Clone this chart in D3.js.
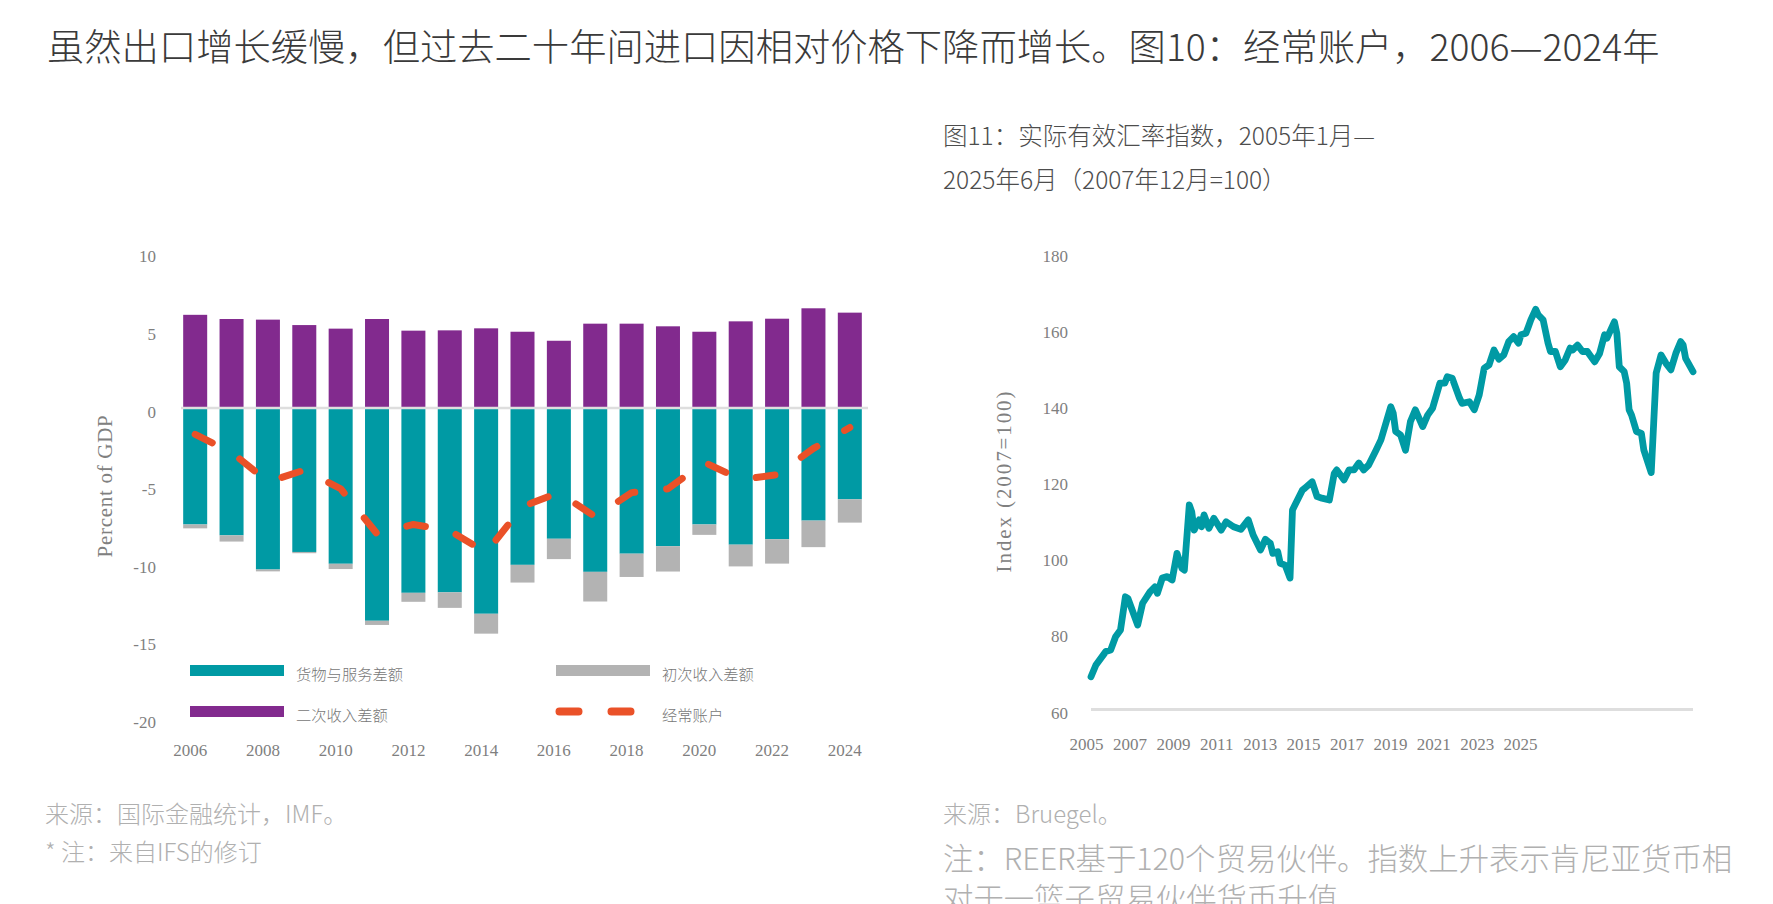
<!DOCTYPE html>
<html>
<head>
<meta charset="utf-8">
<script src="https://cdn.jsdelivr.net/npm/d3@7"></script>
<style>
  body { margin: 0; background: #fff; }
  svg text { font-family: "Noto Sans CJK SC", "Noto Sans", sans-serif; }
  .tick-label { font-family: "Liberation Serif", "DejaVu Serif", serif !important; font-size: 17px; fill: #7f7f7f; }
  .axis-title { font-family: "Liberation Serif", "DejaVu Serif", serif !important; font-size: 21px; fill: #808080; }
</style>
</head>
<body>
<svg id="chart" width="1773" height="904"></svg>
<script>
// data - figure 10 (percent of GDP)
var years = [2006, 2007, 2008, 2009, 2010, 2011, 2012, 2013, 2014, 2015, 2016, 2017, 2018, 2019, 2020, 2021, 2022, 2023, 2024];
var goodsServices = [-7.5, -8.2, -10.4, -9.27, -10.03, -13.7, -11.9, -11.87, -13.25, -10.1, -8.42, -10.55, -9.38, -8.9, -7.5, -8.8, -8.45, -7.25, -5.88];
var primaryIncome = [-0.25, -0.4, -0.12, -0.08, -0.34, -0.27, -0.58, -1.0, -1.28, -1.14, -1.31, -1.91, -1.5, -1.63, -0.67, -1.4, -1.57, -1.71, -1.5];
var secondaryIncome = [6.0, 5.73, 5.69, 5.34, 5.11, 5.73, 4.98, 5.0, 5.13, 4.91, 4.33, 5.43, 5.43, 5.26, 4.91, 5.58, 5.75, 6.42, 6.14];
var currentAccount = [-1.7, -2.85, -4.75, -4.0, -5.2, -8.1, -7.5, -7.9, -9.3, -6.35, -5.45, -7.0, -5.45, -5.2, -3.5, -4.6, -4.3, -2.6, -1.25];
var leftTicks = [10, 5, 0, -5, -10, -15, -20];
var leftXLabels = [2006, 2008, 2010, 2012, 2014, 2016, 2018, 2020, 2022, 2024];

// data - figure 11 (REER, months since Jan 2005)
var reerMonths = [0, 2, 6, 8, 10, 12, 14, 15, 19, 21, 24, 26, 27, 29, 31, 33, 35, 37, 38, 40, 41, 42, 44, 45, 46, 48, 50, 53, 55, 58, 61, 64, 66, 69, 71, 73, 74, 76, 77, 79, 81, 82, 83, 86, 87, 90, 92, 94, 97, 99, 100, 103, 105, 107, 109, 111, 113, 116, 118, 122, 123, 124, 126, 128, 130, 132, 135, 137, 139, 142, 144, 145, 147, 150, 151, 154, 156, 158, 160, 162, 164, 166, 168, 170, 172, 174, 175, 177, 178, 179, 181, 182, 184, 186, 187, 189, 191, 193, 195, 196, 198, 200, 202, 203, 205, 207, 209, 210, 213, 214, 215, 217, 218, 219, 220, 222, 224, 225, 228, 229, 230, 232, 234, 236, 238, 240, 241, 242, 245];
var reerValues = [68.6, 71.7, 75.2, 75.6, 79.1, 80.9, 89.6, 89.2, 82.2, 87.9, 90.9, 92.2, 90.5, 94.5, 94.9, 94.0, 101.0, 97.1, 96.6, 113.7, 111.9, 107.1, 109.8, 108.0, 111.1, 107.6, 110.2, 107.1, 109.3, 108.0, 107.3, 109.8, 105.8, 101.9, 104.7, 103.6, 101.0, 101.4, 98.4, 97.9, 94.5, 112.4, 113.7, 117.6, 118.1, 119.8, 115.9, 115.5, 115.0, 122.0, 122.9, 120.3, 122.9, 122.9, 124.7, 122.9, 124.2, 128.1, 130.8, 139.5, 137.8, 133.0, 132.1, 128.1, 135.6, 138.7, 134.3, 137.3, 139.1, 145.7, 145.7, 147.4, 147.0, 141.7, 140.4, 140.8, 138.7, 142.6, 149.6, 150.5, 154.4, 152.0, 153.1, 156.6, 157.9, 156.2, 158.4, 158.8, 160.5, 162.3, 165.1, 163.6, 162.3, 156.2, 154.0, 154.0, 150.0, 151.8, 154.9, 154.4, 155.7, 154.0, 154.0, 153.1, 151.3, 153.5, 158.4, 157.5, 161.8, 158.8, 150.0, 148.7, 145.7, 138.7, 137.3, 133.0, 132.5, 128.1, 122.2, 135.2, 148.3, 153.1, 150.9, 149.2, 153.5, 156.6, 155.7, 152.2, 148.7];
var rightTicks = [180, 160, 140, 120, 100, 80, 60];
var rightXLabels = ['2005', '2007', '2009', '2011', '2013', '2015', '2017', '2019', '2021', '2023', '2025'];

var TEAL = '#009aa4', PURPLE = '#822a8e', GREY = '#b3b3b3', ORANGE = '#ea5128';

var svg = d3.select('#chart');

// titles
svg.append('text')
  .attr('x', 47).attr('y', 45)
  .attr('dominant-baseline', 'central')
  .style('font-size', '37.3px').style('font-weight', 300).style('fill', '#3a3a3a')
  .text('虽然出口增长缓慢，但过去二十年间进口因相对价格下降而增长。图10：经常账户，2006—2024年');

svg.selectAll('.subtitle')
  .data(['图11：实际有效汇率指数，2005年1月—', '2025年6月（2007年12月=100）'])
  .join('text')
  .attr('class', 'subtitle')
  .attr('x', 943)
  .attr('y', function(d, i) { return 134.5 + i * 44; })
  .attr('dominant-baseline', 'central')
  .style('font-size', '24.5px').style('font-weight', 300).style('fill', '#4d4d4d')
  .text(function(d) { return d; });

///*********** Figure 10: stacked bars ************/

var x = d3.scaleBand()
  .domain(years)
  .range([177, 868])
  .paddingInner(0.34)
  .paddingOuter(0.17);

var y = d3.scaleLinear().domain([-20, 10]).range([718.6, 252.7]);

var rows = years.map(function(yr, i) {
  return {year: yr, goods: goodsServices[i], primary: primaryIncome[i], secondary: secondaryIncome[i], ca: currentAccount[i]};
});

var left = svg.append('g');

left.selectAll('.sec')
  .data(rows)
  .join('rect')
  .attr('class', 'sec')
  .attr('x', function(d) { return x(d.year); })
  .attr('width', x.bandwidth())
  .attr('y', function(d) { return y(d.secondary); })
  .attr('height', function(d) { return y(0) - y(d.secondary); })
  .style('fill', PURPLE);

left.selectAll('.goods')
  .data(rows)
  .join('rect')
  .attr('class', 'goods')
  .attr('x', function(d) { return x(d.year); })
  .attr('width', x.bandwidth())
  .attr('y', y(0))
  .attr('height', function(d) { return y(d.goods) - y(0); })
  .style('fill', TEAL);

left.selectAll('.prim')
  .data(rows)
  .join('rect')
  .attr('class', 'prim')
  .attr('x', function(d) { return x(d.year); })
  .attr('width', x.bandwidth())
  .attr('y', function(d) { return y(d.goods); })
  .attr('height', function(d) { return y(d.goods + d.primary) - y(d.goods); })
  .style('fill', GREY);

left.append('line')
  .attr('x1', 181).attr('x2', 868)
  .attr('y1', y(0)).attr('y2', y(0))
  .style('stroke', '#dedede').style('stroke-width', 2.5);

var caLine = d3.line()
  .x(function(d) { return x(d.year) + x.bandwidth() / 2; })
  .y(function(d) { return y(d.ca); });

left.append('path')
  .datum(rows)
  .attr('d', caLine)
  .style('fill', 'none')
  .style('stroke', ORANGE)
  .style('stroke-width', 7)
  .style('stroke-linecap', 'round')
  .style('stroke-linejoin', 'round')
  .style('stroke-dasharray', '19,32');

left.selectAll('.ytick')
  .data(leftTicks)
  .join('text')
  .attr('class', 'tick-label ytick')
  .attr('x', 156)
  .attr('y', function(d) { return y(d) + 4; })
  .attr('text-anchor', 'end')
  .attr('dominant-baseline', 'central')
  .text(function(d) { return d; });

// year labels sit a little left of the bar centres in the original
left.selectAll('.xtick')
  .data(leftXLabels)
  .join('text')
  .attr('class', 'tick-label xtick')
  .attr('x', function(d) { return x(d) + x.bandwidth() / 2 - 5; })
  .attr('y', 750)
  .attr('text-anchor', 'middle')
  .attr('dominant-baseline', 'central')
  .text(function(d) { return d; });

left.append('text')
  .attr('class', 'axis-title')
  .attr('transform', 'translate(105,486) rotate(-90)')
  .attr('text-anchor', 'middle')
  .attr('dominant-baseline', 'central')
  .style('letter-spacing', '0.7px')
  .text('Percent of GDP');

// legend
var legendItems = [
  {name: '货物与服务差额', color: TEAL, x: 190, y: 670.5, dash: false},
  {name: '初次收入差额', color: GREY, x: 556, y: 670.5, dash: false},
  {name: '二次收入差额', color: PURPLE, x: 190, y: 711.5, dash: false},
  {name: '经常账户', color: ORANGE, x: 556, y: 711.5, dash: true}
];

var leg = left.selectAll('.legend')
  .data(legendItems)
  .join('g')
  .attr('class', 'legend')
  .attr('transform', function(d) { return 'translate(' + [d.x, d.y] + ')'; });

leg.filter(function(d) { return !d.dash; })
  .append('rect')
  .attr('x', 0).attr('y', -5.5)
  .attr('width', 94).attr('height', 11)
  .style('fill', function(d) { return d.color; });

leg.filter(function(d) { return d.dash; })
  .append('line')
  .attr('x1', 3.5).attr('x2', 80)
  .attr('y1', 0).attr('y2', 0)
  .style('stroke', function(d) { return d.color; })
  .style('stroke-width', 8)
  .style('stroke-linecap', 'round')
  .style('stroke-dasharray', '19,33');

leg.append('text')
  .attr('x', 106)
  .attr('y', 2)
  .attr('dominant-baseline', 'central')
  .style('font-size', '15.3px').style('font-weight', 300).style('fill', '#777')
  .text(function(d) { return d.name; });

///*********** Figure 11: REER line ************/

var x2 = d3.scaleLinear().domain([0, 245]).range([1091, 1693]);
var y2 = d3.scaleLinear().domain([60, 180]).range([709.5, 252.5]);

var reer = reerMonths.map(function(m, i) { return {m: m, v: reerValues[i]}; });

var right = svg.append('g');

right.append('line')
  .attr('x1', x2(0)).attr('x2', x2(245))
  .attr('y1', y2(60)).attr('y2', y2(60))
  .style('stroke', '#dedede').style('stroke-width', 3);

right.append('path')
  .datum(reer)
  .attr('d', d3.line()
    .x(function(d) { return x2(d.m); })
    .y(function(d) { return y2(d.v); }))
  .style('fill', 'none')
  .style('stroke', TEAL)
  .style('stroke-width', 6.8)
  .style('stroke-linejoin', 'round')
  .style('stroke-linecap', 'round');

right.selectAll('.ytick')
  .data(rightTicks)
  .join('text')
  .attr('class', 'tick-label ytick')
  .attr('x', 1068)
  .attr('y', function(d) { return y2(d) + 3.5; })
  .attr('text-anchor', 'end')
  .attr('dominant-baseline', 'central')
  .text(function(d) { return d; });

var xl = d3.scalePoint().domain(rightXLabels).range([1086.6, 1520.6]);

right.selectAll('.xtick')
  .data(rightXLabels)
  .join('text')
  .attr('class', 'tick-label xtick')
  .attr('x', function(d) { return xl(d); })
  .attr('y', 744)
  .attr('text-anchor', 'middle')
  .attr('dominant-baseline', 'central')
  .text(function(d) { return d; });

right.append('text')
  .attr('class', 'axis-title')
  .attr('transform', 'translate(1004,481) rotate(-90)')
  .attr('text-anchor', 'middle')
  .attr('dominant-baseline', 'central')
  .style('letter-spacing', '1.9px')
  .text('Index (2007=100)');

// footnotes
var notes = [
  {t: '来源：国际金融统计，IMF。', x: 45, y: 812, s: 24},
  {t: '* 注：来自IFS的修订', x: 45, y: 850, s: 24},
  {t: '来源：Bruegel。', x: 943, y: 812, s: 24},
  {t: '注：REER基于120个贸易伙伴。指数上升表示肯尼亚货币相', x: 943, y: 857, s: 30.4},
  {t: '对于一篮子贸易伙伴货币升值', x: 943, y: 897, s: 30.4}
];

svg.selectAll('.note')
  .data(notes)
  .join('text')
  .attr('class', 'note')
  .attr('x', function(d) { return d.x; })
  .attr('y', function(d) { return d.y; })
  .attr('dominant-baseline', 'central')
  .style('font-size', function(d) { return d.s + 'px'; })
  .style('font-weight', 300)
  .style('fill', '#b0b0b0')
  .text(function(d) { return d.t; });
</script>
</body>
</html>
